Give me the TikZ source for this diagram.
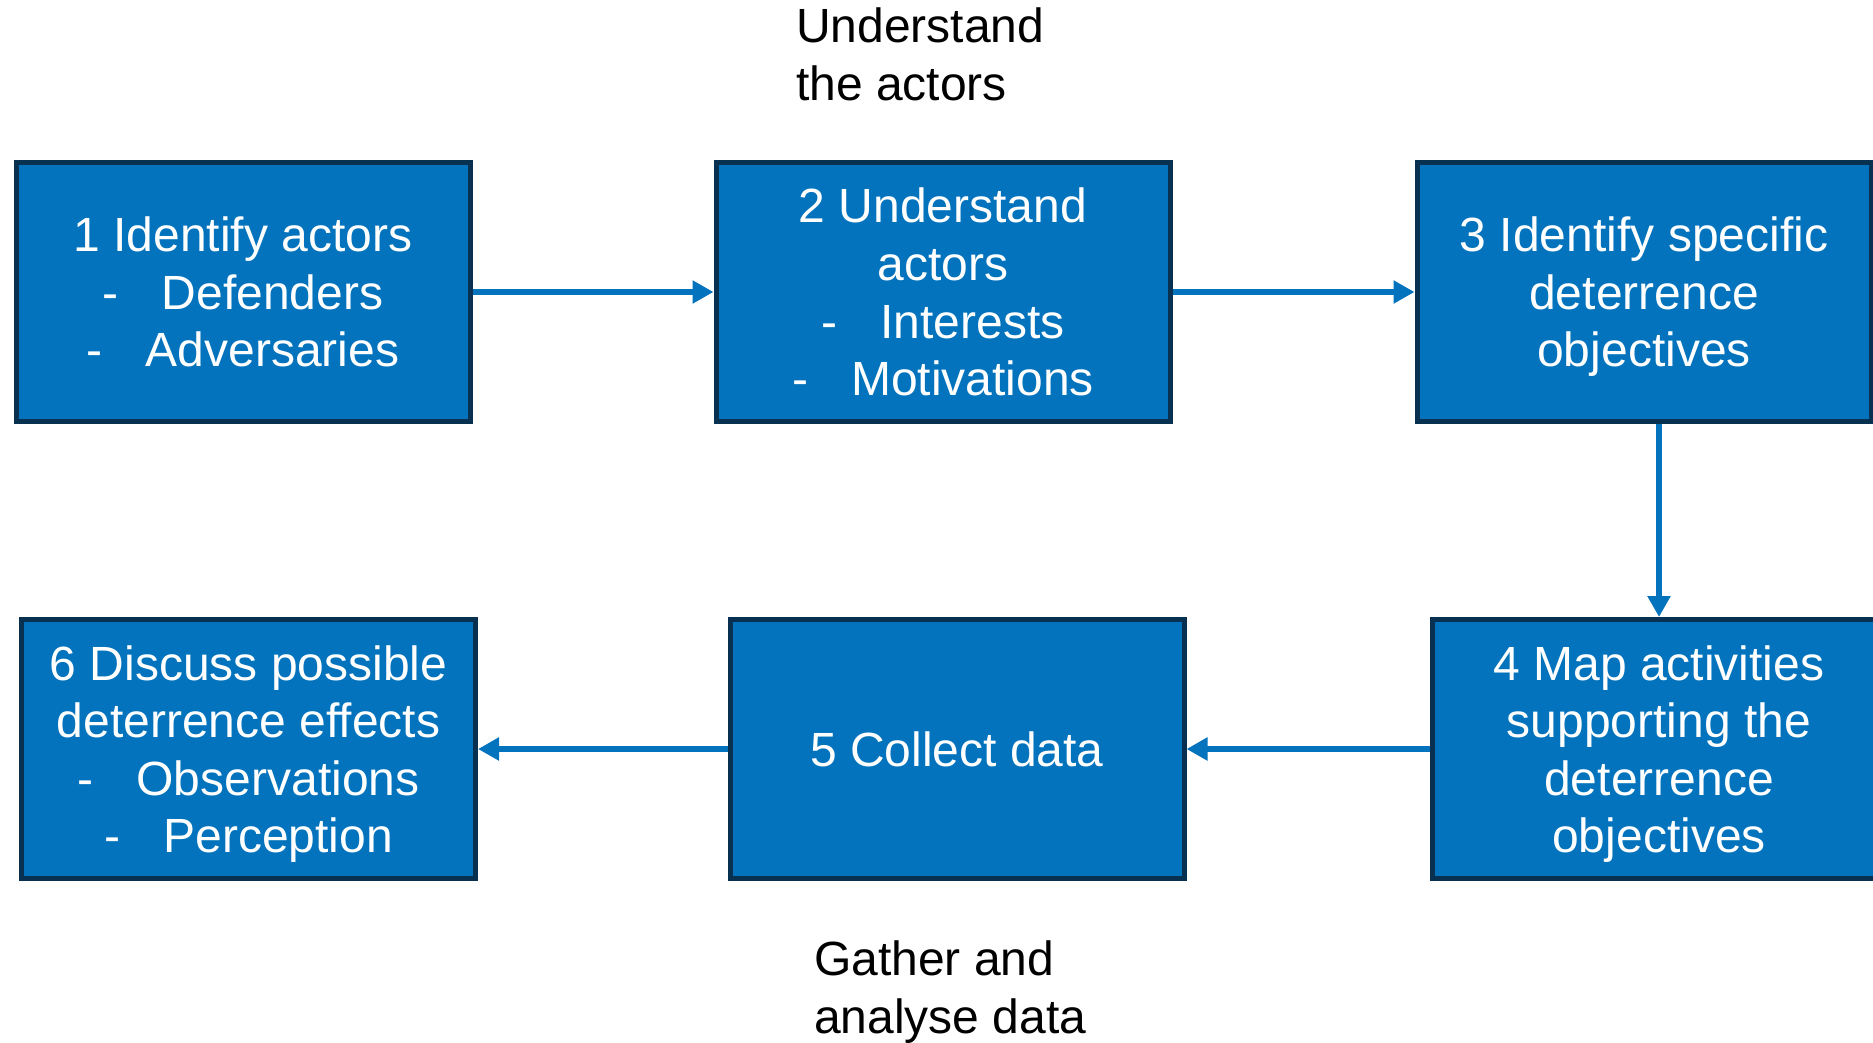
\documentclass[tikz,border=0pt]{standalone}
\usepackage{fontspec}
\setmainfont{Liberation Sans}
\usetikzlibrary{arrows.meta}
\definecolor{boxblue}{RGB}{2,115,188}
\definecolor{boxedge}{RGB}{8,48,80}
\tikzset{
  stepbox/.style={draw=boxedge, line width=5pt, fill=boxblue, text=white,
    minimum width=454pt, minimum height=259pt, inner sep=0pt, align=center,
    font=\fontsize{48}{57.6}\selectfont, text depth=0pt},
  flow/.style={draw=boxblue, line width=6pt, -{Triangle[length=21pt,width=22pt]}},
  caption/.style={align=left, inner sep=0pt, font=\fontsize{48}{57.6}\selectfont, text=black}
}
\newcommand{\bul}{-\hspace{0.9em}}
\begin{document}
\begin{tikzpicture}[x=1pt,y=-1pt]
\useasboundingbox (0,0) rectangle (1873,1043);
\clip (0,0) rectangle (1873,1043);
\node[stepbox] (b1) at (243,292) {1 Identify actors\\ \bul Defenders\\ \bul Adversaries};
\node[stepbox] (b2) at (943,292) {2 Understand\\ actors\\ \bul Interests\\ \bul Motivations};
\node[stepbox] (b3) at (1644,292) {3 Identify specific\\ deterrence\\ objectives};
\node[stepbox] (b4) at (1659,749) {4 Map activities\\ supporting the\\ deterrence\\ objectives};
\node[stepbox] (b5) at (957,749) {5 Collect data};
\node[stepbox] (b6) at (248.5,749) {6 Discuss possible\\ deterrence effects\\ \bul Observations\\ \bul Perception};
\node[caption, anchor=north west] (t1) at (796,8) {Understand\\ the actors};
\node[caption, anchor=north west] (t2) at (814,941) {Gather and\\ analyse data};
\draw[flow] (b1.east) -- (b2.west);
\draw[flow] (b2.east) -- (b3.west);
\draw[flow] (b3.south -| b4.north) -- (b4.north);
\draw[flow] (b4.west) -- (b5.east);
\draw[flow] (b5.west) -- (b6.east);
\end{tikzpicture}
\end{document}
